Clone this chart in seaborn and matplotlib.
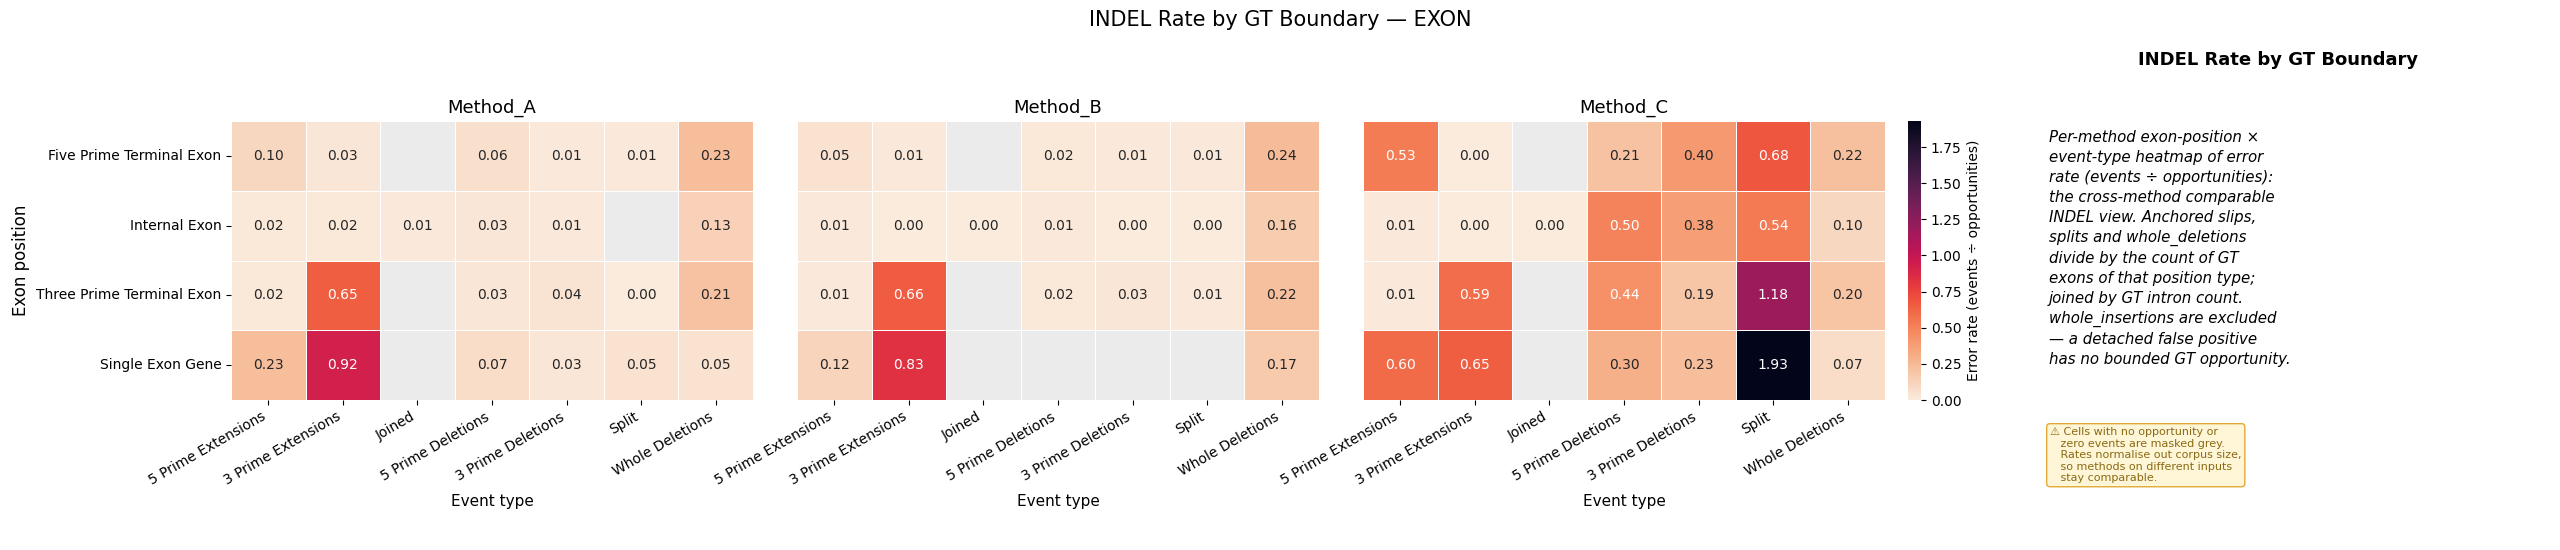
"""
INDEL rate by GT boundary (exon view) - per-method heatmaps
"""

import numpy as np
import pandas as pd
import matplotlib
matplotlib.use("Agg")
import matplotlib.pyplot as plt
import seaborn as sns

plt.rcParams['font.family'] = ['DejaVu Sans']

# 데이터
positions = ["Five Prime Terminal Exon", "Internal Exon",
             "Three Prime Terminal Exon", "Single Exon Gene"]
event_types = ["5 Prime Extensions", "3 Prime Extensions", "Joined",
               "5 Prime Deletions", "3 Prime Deletions", "Split", "Whole Deletions"]
methods = ["Method_A", "Method_B", "Method_C"]

nan = np.nan
rate_a = [
    [0.10, 0.03, nan, 0.06, 0.01, 0.01, 0.23],
    [0.02, 0.02, 0.01, 0.03, 0.01, nan, 0.13],
    [0.02, 0.65, nan, 0.03, 0.04, 0.004, 0.21],
    [0.23, 0.92, nan, 0.07, 0.03, 0.05, 0.05],
]
rate_b = [
    [0.05, 0.01, nan, 0.02, 0.01, 0.01, 0.24],
    [0.01, 0.004, 0.004, 0.01, 0.004, 0.004, 0.16],
    [0.01, 0.66, nan, 0.02, 0.03, 0.01, 0.22],
    [0.12, 0.83, nan, nan, nan, nan, 0.17],
]
rate_c = [
    [0.53, 0.004, nan, 0.21, 0.40, 0.68, 0.22],
    [0.01, 0.004, 0.004, 0.50, 0.38, 0.54, 0.10],
    [0.01, 0.59, nan, 0.44, 0.19, 1.18, 0.20],
    [0.60, 0.65, nan, 0.30, 0.23, 1.93, 0.07],
]

frames = [pd.DataFrame(r, index=positions, columns=event_types)
          for r in (rate_a, rate_b, rate_c)]
vmax = max(np.nanmax(f.values) for f in frames)

W, H = 2560, 550
fig = plt.figure(figsize=(25.6, 5.5), dpi=100)


def px_axes(x0, y0, x1, y1):
    # 픽셀 좌표(위쪽 기준) -> figure fraction
    return fig.add_axes([x0 / W, 1 - y1 / H, (x1 - x0) / W, (y1 - y0) / H])


lefts = [231, 797, 1363]
axes = [px_axes(l, 121, l + 522, 400) for l in lefts]
cax = px_axes(1908, 121, 1921, 400)

for i, (ax, df, name) in enumerate(zip(axes, frames, methods)):
    ax.set_facecolor("#ebebeb")
    sns.heatmap(df, ax=ax, cmap="rocket_r", vmin=0, vmax=vmax,
                annot=True, fmt=".2f", annot_kws={"fontsize": 10},
                linewidths=0.5, linecolor="white",
                cbar=(i == 2), cbar_ax=cax if i == 2 else None,
                cbar_kws={"label": "Error rate (events ÷ opportunities)"})
    ax.set_title(name, fontsize=13)
    ax.set_xlabel("Event type", fontsize=11)
    ax.set_xticklabels(event_types, rotation=30, ha="right", fontsize=10)
    ax.tick_params(bottom=True, length=3.5)
    if i == 0:
        ax.set_ylabel("Exon position", fontsize=12)
        ax.set_yticklabels(positions, rotation=0, fontsize=10)
        ax.tick_params(left=True, length=3.5)
    else:
        ax.set_ylabel("")
        ax.set_yticks([])

cax.tick_params(labelsize=10, right=True, length=3.5)
cax.yaxis.label.set_size(10)

fig.suptitle("INDEL Rate by GT Boundary — EXON", fontsize=15, y=1 - 20 / H, va="center")

# 오른쪽 설명 패널
fig.text(2278 / W, 1 - 60 / H, "INDEL Rate by GT Boundary",
         fontsize=13, fontweight="bold", ha="center", va="center")

desc = ("Per-method exon-position ×\n"
        "event-type heatmap of error\n"
        "rate (events ÷ opportunities):\n"
        "the cross-method comparable\n"
        "INDEL view. Anchored slips,\n"
        "splits and whole_deletions\n"
        "divide by the count of GT\n"
        "exons of that position type;\n"
        "joined by GT intron count.\n"
        "whole_insertions are excluded\n"
        "— a detached false positive\n"
        "has no bounded GT opportunity.")
fig.text(2049 / W, 1 - 130 / H, desc, fontsize=10.8, style="italic",
         ha="left", va="top", linespacing=1.41)

note = ("⚠ Cells with no opportunity or\n"
        "   zero events are masked grey.\n"
        "   Rates normalise out corpus size,\n"
        "   so methods on different inputs\n"
        "   stay comparable.")
fig.text(2050 / W, 1 - 427 / H, note, fontsize=8, color="#8a6a12",
         ha="left", va="top",
         bbox=dict(boxstyle="round,pad=0.3", facecolor="#fff6d8",
                   edgecolor="#e0aa35", linewidth=1))

fig.savefig("out.png", dpi=100)
